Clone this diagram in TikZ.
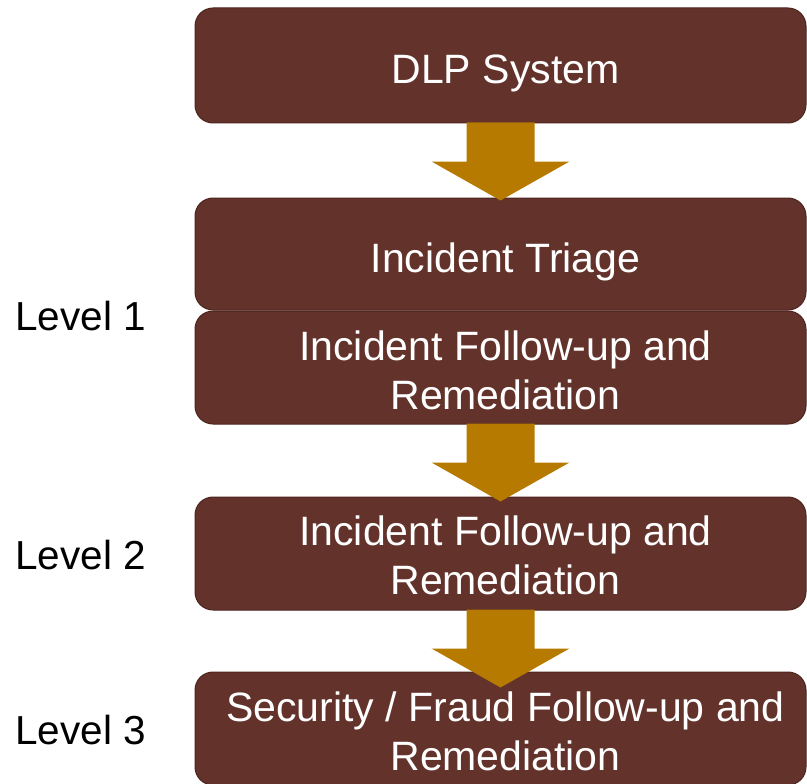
\documentclass[tikz,border=0pt]{standalone}
\usepackage{fontspec}
\setmainfont{Liberation Sans}
\usetikzlibrary{calc}
\definecolor{boxfill}{RGB}{99,51,43}
\definecolor{boxedge}{RGB}{78,36,30}
\definecolor{arrowgold}{RGB}{183,122,0}
\tikzset{
    stage/.style={draw=boxedge, line width=1pt, fill=boxfill,
        rounded corners=18pt, minimum width=611pt, minimum height=113pt,
        inner sep=0pt},
    stagetext/.style={text=white, inner sep=0pt, align=center, xshift=5pt,
        font=\fontsize{41}{49.5}\selectfont},
    levellabel/.style={anchor=west, inner sep=0pt, font=\fontsize{40.5}{49}\selectfont}
}
\begin{document}
\begin{tikzpicture}[x=1pt, y=-1pt]
    \useasboundingbox (0,0) rectangle (807,784);
    % stages
    \node[stage, minimum height=115pt,
        label={[stagetext, yshift=-8pt]center:DLP System}] (dlp) at (500.5,65.5) {};
    \node[stage, minimum height=112pt,
        label={[stagetext, yshift=-8pt]center:Incident Triage}] (triage) at (500.5,254) {};
    \node[stage,
        label={[stagetext, yshift=-3pt]center:Incident Follow-up and\\Remediation}] (followone) at (500.5,367.5) {};
    \node[stage,
        label={[stagetext, yshift=-2pt]center:Incident Follow-up and\\Remediation}] (followtwo) at (500.5,553.5) {};
    \node[stage,
        label={[stagetext, yshift=-3pt]center:Security / Fraud Follow-up and\\Remediation}] (fraud) at (500.5,728.5) {};
    % levels
    \node[levellabel] (levone) at (15,316) {Level 1};
    \node[levellabel] (levtwo) at (15,555) {Level 2};
    \node[levellabel] (levthree) at (15,730) {Level 3};
    % arrows
    \foreach \n in {dlp, followone, followtwo}
        \fill[arrowgold] ($(\n.south)+(-34,-1)$) -- ($(\n.south)+(34,-1)$)
            -- ($(\n.south)+(34,38)$) -- ($(\n.south)+(69,38)$)
            -- ($(\n.south)+(0,77)$) -- ($(\n.south)+(-69,38)$)
            -- ($(\n.south)+(-34,38)$) -- cycle;
\end{tikzpicture}
\end{document}
